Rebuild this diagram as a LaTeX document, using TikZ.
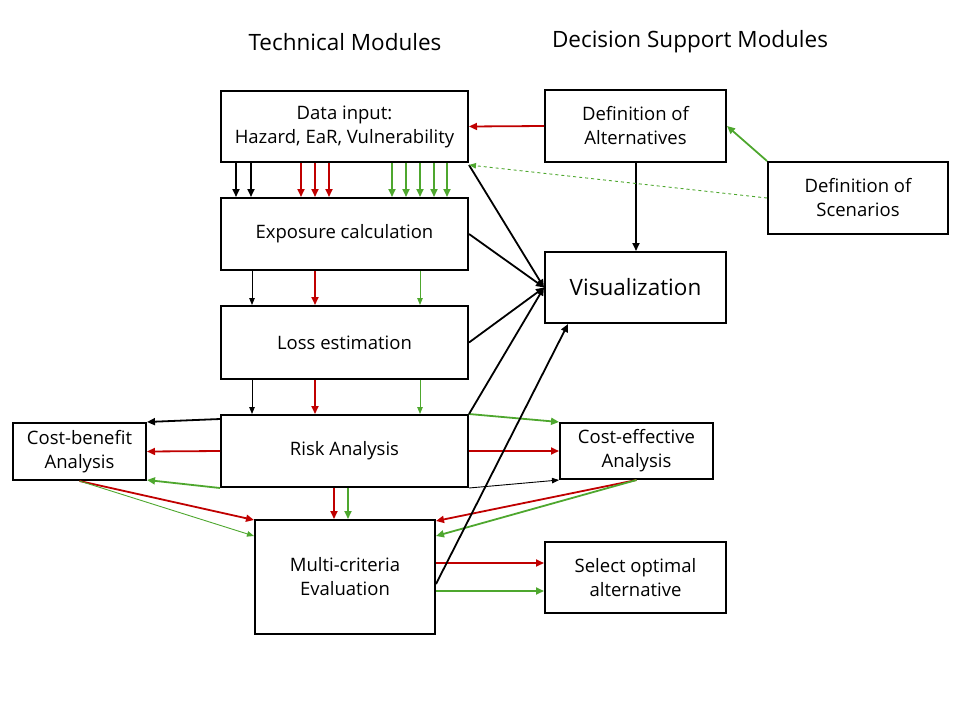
\documentclass[tikz,border=0pt]{standalone}
\usepackage{fontspec}
\setmainfont{Open Sans}
\usetikzlibrary{arrows.meta}
\definecolor{modred}{HTML}{C00000}
\definecolor{modgreen}{HTML}{4EA72E}
\tikzset{
  module/.style={draw, line width=2pt, align=center, inner sep=0pt, font=\fontsize{18.5}{24}\selectfont},
  heading/.style={font=\fontsize{22.5}{26}\selectfont},
  flow/.style={-{Triangle[length=8pt,width=7pt]}, line width=1.8pt},
  thinflow/.style={-{Triangle[length=7pt,width=5.5pt]}, line width=0.9pt},
}
\begin{document}
\begin{tikzpicture}[x=1pt,y=-1pt]
  \useasboundingbox (0,0) rectangle (960,720);
  \node[heading] (techtitle) at (345,42) {Technical Modules};
  \node[heading] (dsstitle) at (690,42) {Decision Support Modules};

  \node[module, minimum width=247pt, minimum height=71pt] (datain) at (344.5,126.5) {Data input:\\Hazard, EaR, Vulnerability};
  \node[module, minimum width=247pt, minimum height=72pt] (expo) at (344.5,234) {Exposure calculation};
  \node[module, minimum width=247pt, minimum height=73pt] (loss) at (344.5,342.5) {Loss estimation};
  \node[module, minimum width=247pt, minimum height=72pt] (risk) at (344.5,451) {Risk Analysis};
  \node[module, minimum width=133pt, minimum height=57pt] (costben) at (79.5,451.5) {Cost-benefit\\Analysis};
  \node[module, minimum width=180pt, minimum height=114pt] (multi) at (345,577) {Multi-criteria\\Evaluation};
  \node[module, minimum width=181pt, minimum height=72pt] (altern) at (635.5,126) {Definition of\\Alternatives};
  \node[module, minimum width=180pt, minimum height=72pt] (scen) at (858,198) {Definition of\\Scenarios};
  \node[module, minimum width=181pt, minimum height=71pt, font=\fontsize{22.5}{26}\selectfont] (vis) at (635.5,287.5) {Visualization};
  \node[module, minimum width=153pt, minimum height=56pt] (costeff) at (636.5,451) {Cost-effective\\Analysis};
  \node[module, minimum width=181pt, minimum height=71pt] (select) at (635.5,577.5) {Select optimal\\alternative};

  \foreach \x in {16,31}
    \draw[flow] ([xshift=\x]datain.south west) -- ([xshift=\x]expo.north west);
  \foreach \x in {81,95,109}
    \draw[flow, modred] ([xshift=\x]datain.south west) -- ([xshift=\x]expo.north west);
  \foreach \x in {172,186,200,214,227}
    \draw[flow, modgreen] ([xshift=\x]datain.south west) -- ([xshift=\x]expo.north west);

  \draw[thinflow] ([xshift=32]expo.south west) -- ([xshift=32]loss.north west);
  \draw[flow, modred] ([xshift=95]expo.south west) -- ([xshift=95]loss.north west);
  \draw[thinflow, modgreen] ([xshift=200]expo.south west) -- ([xshift=200]loss.north west);
  \draw[thinflow] ([xshift=32]loss.south west) -- ([xshift=32]risk.north west);
  \draw[flow, modred] ([xshift=95]loss.south west) -- ([xshift=95]risk.north west);
  \draw[thinflow, modgreen] ([xshift=200]loss.south west) -- ([xshift=200]risk.north west);

  \draw[flow] ([yshift=-5]risk.north west) -- (costben.north east);
  \draw[flow, modred] (risk.west) -- (costben.east);
  \draw[flow, modgreen] (risk.south west) -- ([yshift=1]costben.south east);
  \draw[flow, modred] (costben.south) -- ([yshift=-1]multi.north west);
  \draw[thinflow, modgreen] (costben.south) -- ([yshift=-17]multi.north west);

  \draw[flow, modred] ([xshift=-10.5]risk.south) -- ([xshift=-10.5]risk.south |- multi.north);
  \draw[flow, modgreen] ([xshift=3.5]risk.south) -- ([xshift=3.5]risk.south |- multi.north);

  \draw[flow, modgreen] (risk.north east) -- (costeff.north west);
  \draw[flow, modred] (risk.east) -- (costeff.west);
  \draw[thinflow] (risk.south east) -- (costeff.south west);
  \draw[flow, modred] (costeff.south) -- ([yshift=-2]multi.north east);
  \draw[flow, modgreen] (costeff.south) -- ([yshift=-17]multi.north east);

  \draw[flow, modred] ([yshift=14]multi.east) -- ([yshift=14]multi.east -| select.west);
  \draw[flow, modgreen] ([yshift=-14]multi.east) -- ([yshift=-14]multi.east -| select.west);
  \draw[flow] ([yshift=-7]multi.east) -- ([xshift=24]vis.south west);

  \draw[flow] ([yshift=-2]datain.south east) -- (vis.west);
  \draw[flow] (expo.east) -- (vis.west);
  \draw[flow] (loss.east) -- (vis.west);
  \draw[flow] (risk.north east) -- (vis.west);
  \draw[flow] ([xshift=0.5]altern.south) -- ([xshift=0.5]vis.north);

  \draw[flow, modred] (altern.west) -- (datain.east);
  \draw[flow, modgreen] (scen.north west) -- (altern.east);
  \draw[thinflow, modgreen, dashed] (scen.west) -- ([yshift=-2]datain.south east);
\end{tikzpicture}
\end{document}
